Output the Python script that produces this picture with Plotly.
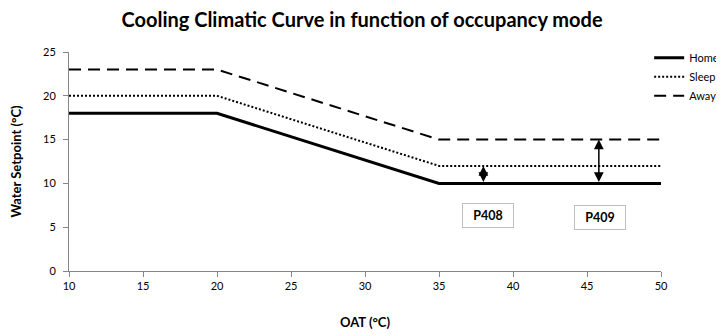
import plotly.graph_objects as go

oat = [10, 20, 35, 50]
home = [18, 18, 10, 10]
sleep = [20, 20, 12, 12]
away = [23, 23, 15, 15]

x_ticks = [10, 15, 20, 25, 30, 35, 40, 45, 50]
y_ticks = [0, 5, 10, 15, 20, 25]

# parameter arrows: (x, y_low, y_high, label, label_x, label_y)
p408 = (38, 10, 12, "P408", 38.28, 6.35)
p409 = (45.8, 10, 15, "P409", 45.9, 6.15)

FONT = "Lato, 'Open Sans', sans-serif"

fig = go.Figure()
fig.add_trace(go.Scatter(x=oat, y=home, mode="lines", name="Home",
                         line=dict(color="black", width=3, dash="solid")))
fig.add_trace(go.Scatter(x=oat, y=sleep, mode="lines", name="Sleep",
                         line=dict(color="black", width=2, dash="2px,2px")))
fig.add_trace(go.Scatter(x=oat, y=away, mode="lines", name="Away",
                         line=dict(color="black", width=2, dash="12px,7px")))

annotations = []
for xa, ylo, yhi, lab, lx, ly in (p408, p409):
    annotations.append(dict(x=xa, y=yhi, ax=xa, ay=ylo, xref="x", yref="y",
                            axref="x", ayref="y", text="", showarrow=True,
                            arrowhead=2, arrowside="end+start", arrowsize=1.3,
                            arrowwidth=1.5, arrowcolor="black"))
    annotations.append(dict(x=lx, y=ly, xref="x", yref="y", text="<b>" + lab + "</b>",
                            showarrow=False, bgcolor="white", bordercolor="#bfbfbf",
                            borderwidth=1, borderpad=4, width=42,
                            font=dict(family=FONT, size=12.5, color="black")))

fig.update_layout(
    width=724, height=336,
    margin=dict(l=61, r=71, t=44, b=73, autoexpand=False),
    paper_bgcolor="white", plot_bgcolor="white",
    font=dict(family=FONT, size=11, color="black"),
    title=dict(text="<b>Cooling Climatic Curve in function of occupancy mode</b>",
               x=0.489, xref="container", xanchor="center", y=0.964, yanchor="middle",
               font=dict(family=FONT, size=20, color="black")),
    showlegend=True,
    legend=dict(x=0.98, y=1.04, xanchor="left", yanchor="top",
                font=dict(family=FONT, size=11, color="black"),
                itemwidth=30, bgcolor="rgba(0,0,0,0)", tracegroupgap=0),
    annotations=annotations,
    xaxis=dict(range=[10, 50], tickvals=x_ticks, showgrid=False, zeroline=False,
               showline=True, linecolor="#868686", linewidth=1,
               ticks="outside", ticklen=5, tickcolor="#868686",
               tickfont=dict(size=11, color="black"),
               title=dict(text="<b>OAT (°C)</b>", font=dict(size=13), standoff=26)),
    yaxis=dict(range=[0, 25], tickvals=y_ticks, showgrid=False, zeroline=False,
               showline=True, linecolor="#868686", linewidth=1,
               ticks="outside", ticklen=5, tickcolor="#868686", ticklabelstandoff=5,
               tickfont=dict(size=11, color="black"),
               title=dict(text="<b>Water Setpoint (°C)</b>", font=dict(size=13), standoff=24)),
)

fig.write_html("out.html")
